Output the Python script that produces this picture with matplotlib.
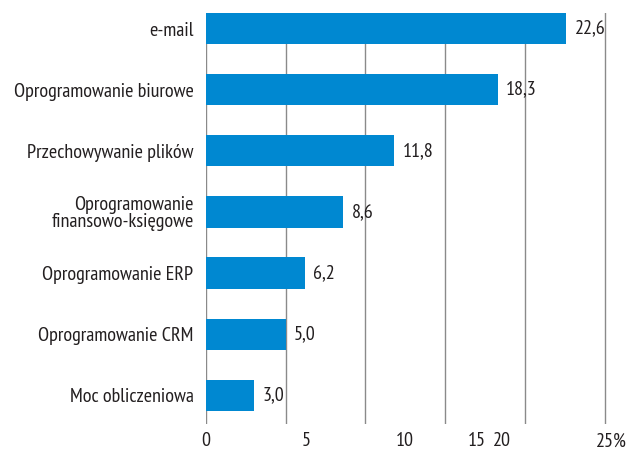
import matplotlib
matplotlib.use("Agg")
import matplotlib.pyplot as plt

categories = [
    "e-mail",
    "Oprogramowanie biurowe",
    "Przechowywanie plików",
    "Oprogramowanie\nfinansowo-księgowe",
    "Oprogramowanie ERP",
    "Oprogramowanie CRM",
    "Moc obliczeniowa",
]
values = [22.6, 18.3, 11.8, 8.6, 6.2, 5.0, 3.0]
value_labels = ["22,6", "18,3", "11,8", "8,6", "6,2", "5,0", "3,0"]

grid_ticks = [0, 5, 10, 15, 20, 25]
# tick labels sit a little off the gridlines in the original
tick_label_pos = [0, 6.26, 12.5, 17.0, 18.56, 25.4]
tick_labels = ["0", "5", "10", "15", "20", "25%"]

plt.rcParams["font.family"] = ["PT Sans Narrow", "DejaVu Sans"]
text_color = "#231f20"
bar_color = "#0088d1"
fs = 14.5

fig = plt.figure(figsize=(6.38, 4.51), dpi=100)
ax = fig.add_axes([206 / 638, 27 / 451, 405 / 638, 411 / 451])

y = list(range(len(categories)))
ax.barh(y, values, height=0.51, color=bar_color, zorder=3)

for yi, v, lab in zip(y, values, value_labels):
    ax.annotate(lab, (v, yi), xytext=(6, 0), textcoords="offset points",
                va="center", ha="left", fontsize=fs, color=text_color, zorder=4)

ax.set_xlim(0, 25)
ax.set_ylim(6.47, -0.255)

ax.set_yticks(y)
ax.set_yticklabels(categories, fontsize=fs, color=text_color, linespacing=0.95)
ax.tick_params(axis="y", length=0, pad=9)

ax.xaxis.remove_overlapping_locs = False
ax.set_xticks(grid_ticks)
ax.set_xticklabels([])
ax.set_xticks(tick_label_pos, minor=True)
ax.set_xticklabels(tick_labels, minor=True, fontsize=fs, color=text_color)
ax.tick_params(axis="x", which="both", length=0, pad=6)
ax.grid(axis="x", which="major", color="#8a8a8a", linewidth=1.0, zorder=0)

for s in ax.spines.values():
    s.set_visible(False)

fig.savefig("out.png", dpi=100)
